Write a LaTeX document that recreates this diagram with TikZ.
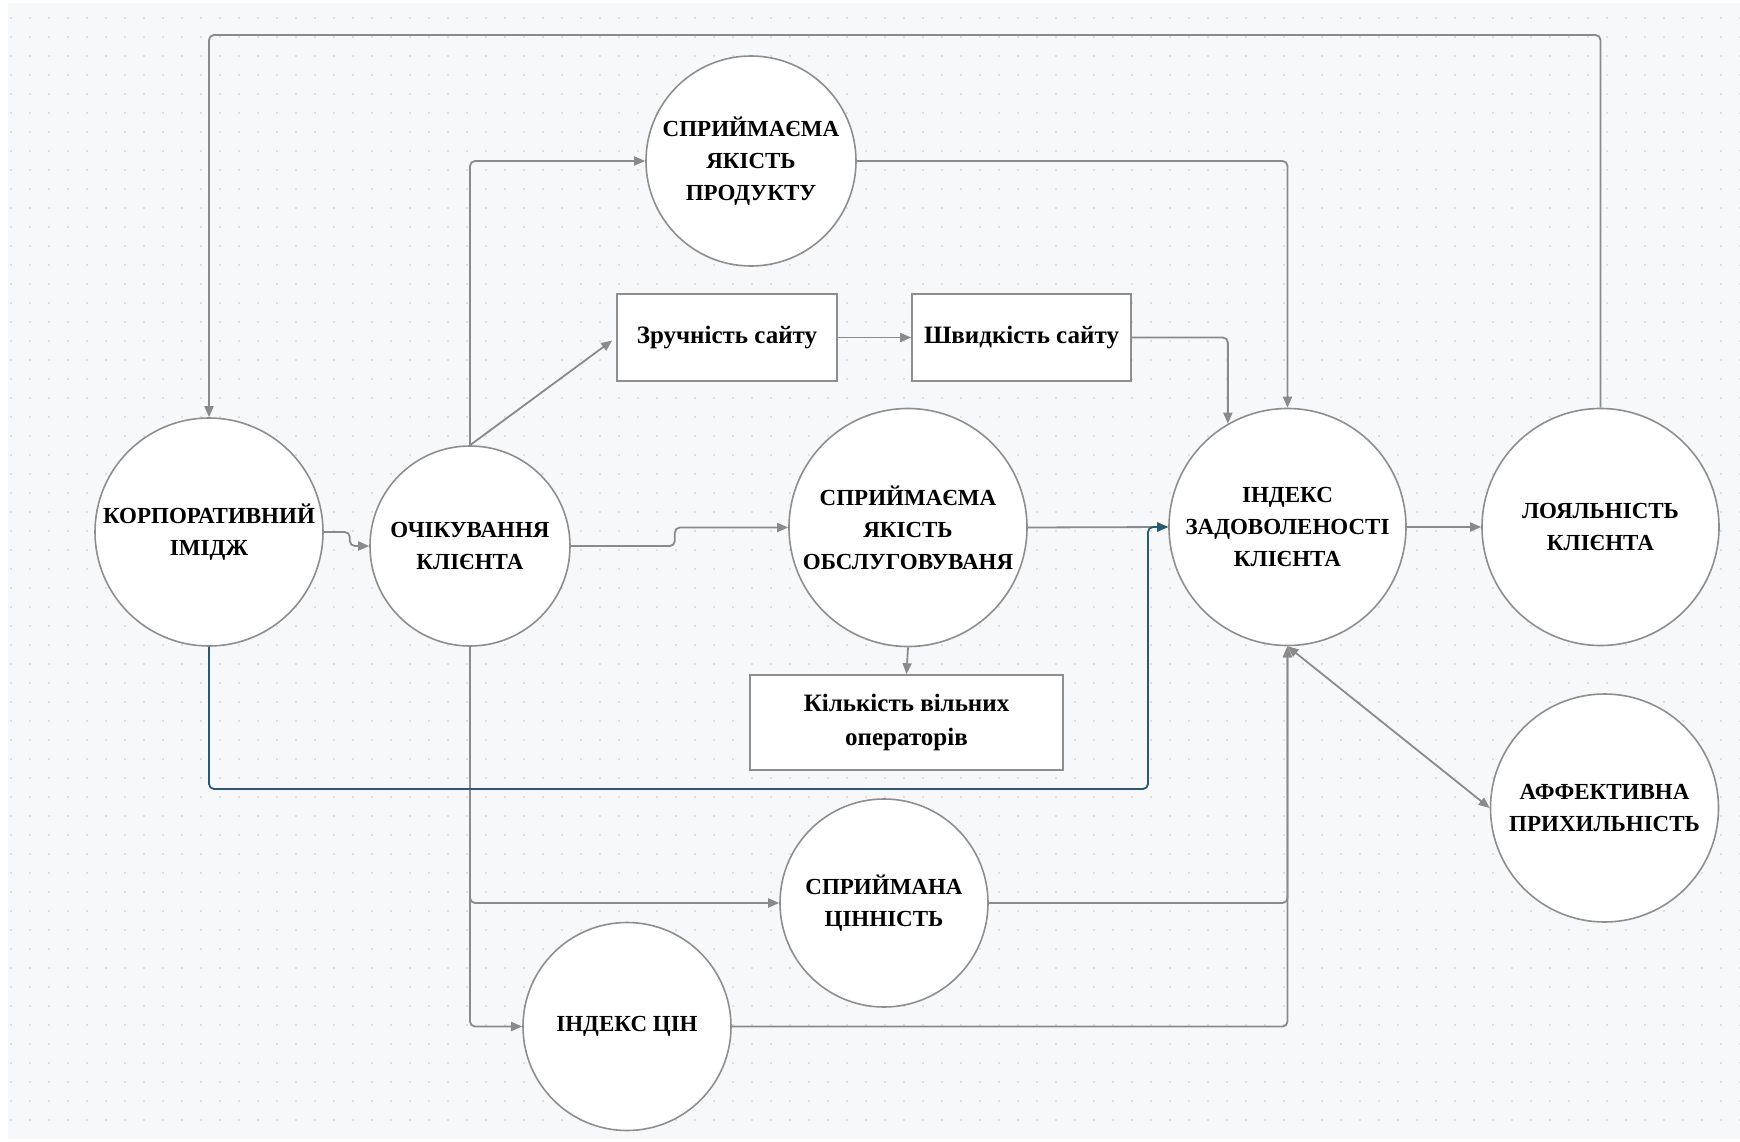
\documentclass[tikz,border=0pt]{standalone}
\usepackage{fontspec}
\setmainfont{Liberation Serif}
\usetikzlibrary{arrows.meta}

\definecolor{canvas}{HTML}{F7F8FA}
\definecolor{griddot}{HTML}{DCDFE4}
\definecolor{wire}{HTML}{8A8A8A}
\definecolor{rim}{HTML}{8E8E8E}
\definecolor{navy}{HTML}{2B5873}

\tikzset{
  concept/.style={circle, draw=rim, line width=1.6pt, fill=white, inner sep=0pt,
    font=\fontsize{23}{32}\selectfont\bfseries, text=black, align=center},
  factor/.style={rectangle, draw=rim, line width=1.6pt, fill=white, inner sep=0pt,
    font=\fontsize{25}{34}\selectfont\bfseries, text=black, align=center},
  tip/.style={-{Triangle[length=11pt,width=9pt]}},
  conn/.style={draw=wire, line width=1.8pt, rounded corners=5pt, tip},
  link/.style={draw=navy, line width=1.8pt, rounded corners=5pt, tip},
  bothway/.style={draw=wire, line width=1.8pt, {Triangle[length=11pt,width=9pt]}-{Triangle[length=11pt,width=9pt]}},
  dotrow/.style={draw=griddot, line width=2pt, dash pattern=on 2pt off 17pt}
}

\begin{document}
\begin{tikzpicture}[x=1pt,y=-1pt]
  % canvas with dotted grid
  \useasboundingbox (0,0) rectangle (1740,1142);
  \fill[white] (0,0) rectangle (1740,1142);
  \fill[canvas] (8,3) rectangle (1740,1139);
  \foreach \j in {0,...,58}
    \draw[dotrow] (10,{18+19*\j}) -- (1740,{18+19*\j});

  % concepts
  \node[concept, minimum size=228] (img)   at (209,532)    {КОРПОРАТИВНИЙ\\ІМІДЖ};
  \node[concept, minimum size=200] (exp)   at (470,546)    {ОЧІКУВАННЯ\\КЛІЄНТА};
  \node[concept, minimum size=210] (prod)  at (751,161)    {СПРИЙМАЄМА\\ЯКІСТЬ\\ПРОДУКТУ};
  \node[concept, minimum size=238] (serv)  at (908,527.5)  {СПРИЙМАЄМА\\ЯКІСТЬ\\ОБСЛУГОВУВАНЯ};
  \node[concept, minimum size=237] (csi)   at (1287.5,527) {ІНДЕКС\\ЗАДОВОЛЕНОСТІ\\КЛІЄНТА};
  \node[concept, minimum size=237] (loyal) at (1600.5,527) {ЛОЯЛЬНІСТЬ\\КЛІЄНТА};
  \node[concept, minimum size=228] (aff)   at (1604.5,808) {АФФЕКТИВНА\\ПРИХИЛЬНІСТЬ};
  \node[concept, minimum size=208] (val)   at (884,903)    {СПРИЙМАНА\\ЦІННІСТЬ};
  \node[concept, minimum size=208] (price) at (627,1026.5) {ІНДЕКС ЦІН};

  % measurable factors
  \node[factor, minimum width=220, minimum height=87] (conv)  at (727,337.5)   {Зручність сайту};
  \node[factor, minimum width=219, minimum height=87] (speed) at (1021.5,337.5) {Швидкість сайту};
  \node[factor, minimum width=313, minimum height=95] (ops)   at (906.5,722.5) {Кількість вільних\\операторів};

  % bend points
  \coordinate (topL) at (209,35);
  \coordinate (topR) at (1600.5,35);
  \coordinate (lowR) at (1148,789);

  % connectors
  \draw[conn] (loyal.north) -- (topR) -- (topL) -- (img.north);
  \draw[conn] (exp.north) |- (prod.west);
  \draw[conn, shorten >=5pt] (exp.north) -- (conv.west);
  \draw[conn] (conv.east) -- (speed.west);
  \draw[conn] (speed.east) -| (csi.120);
  \draw[conn] (prod.east) -| (csi.north);
  \draw[conn] (img.east) -- ++(26,0) |- (exp.west);
  \draw[conn] (exp.east) -- ++(104,0) |- (serv.west);
  \draw[conn] (serv.east) -- (csi.west);
  \draw[conn] (serv.south) -- (ops.north);
  \draw[conn] (exp.south) |- (val.west);
  \draw[conn] (exp.south) |- (price.west);
  \draw[conn] (val.east) -| (csi.south);
  \draw[conn] (price.east) -| (csi.south);
  \draw[conn] (csi.east) -- (loyal.west);
  \draw[bothway] (csi.south) -- (aff.west);
  \draw[link] (img.south) |- (lowR) |- (csi.west);
\end{tikzpicture}
\end{document}
